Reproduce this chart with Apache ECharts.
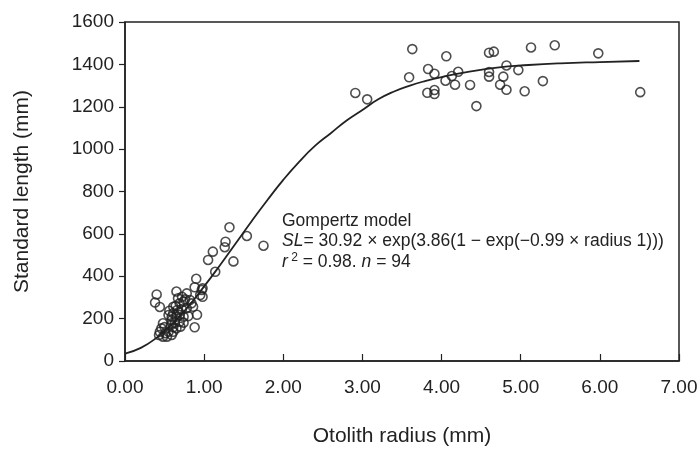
<!DOCTYPE html>
<html>
<head>
<meta charset="utf-8">
<script src="https://cdn.jsdelivr.net/npm/echarts@6/dist/echarts.min.js"></script>
<style>
  html, body { margin: 0; padding: 0; background: #fff; }
  #chart { width: 700px; height: 449px; }
</style>
</head>
<body>
<div id="chart"></div>
<script>
// observed fish: otolith radius (mm) and standard length (mm)
const radius = [
  // small fish
  1.32, 1.54, 1.75, 1.27, 1.26, 1.11, 1.05, 1.37, 1.14, 0.90, 0.88, 0.98, 0.97, 0.95, 0.98,
  0.88, 0.91, 0.40, 0.38, 0.44, 0.65, 0.56,
  0.78, 0.82, 0.84, 0.74, 0.69, 0.64, 0.66, 0.72, 0.78, 0.86, 0.61, 0.65, 0.69, 0.74, 0.80,
  0.59, 0.63, 0.69, 0.74, 0.58, 0.61, 0.48, 0.46, 0.44, 0.51, 0.55, 0.59, 0.53, 0.48, 0.43,
  0.61, 0.65, 0.70, 0.59, 0.55, 0.67, 0.72, 0.76, 0.61, 0.50, 0.68,
  // large fish
  3.63, 3.59, 2.91, 3.06, 4.06, 3.83, 3.91, 3.82, 3.91, 3.91, 4.05, 4.13, 4.21, 4.17, 4.36,
  4.44, 4.60, 4.66, 4.60, 4.60, 4.82, 4.78, 4.74, 4.82, 4.97, 5.05, 5.13, 5.28, 5.43, 5.98, 6.51
];
const stdLength = [
  631, 590, 544, 563, 537, 516, 477, 470, 421, 388, 348, 343, 335, 311, 303,
  159, 218, 314, 276, 255, 328, 237,
  319, 288, 272, 280, 272, 260, 241, 244, 249, 256, 225, 209, 217, 209, 212,
  193, 181, 185, 181, 170, 159, 178, 154, 138, 131, 138, 123, 115, 115, 123,
  138, 154, 162, 209, 217, 296, 303, 291, 256, 160, 230,
  1472, 1339, 1265, 1235, 1438, 1378, 1356, 1266, 1279, 1260, 1323, 1345, 1365, 1304, 1303,
  1203, 1455, 1460, 1364, 1342, 1395, 1342, 1304, 1280, 1373, 1273, 1480, 1321, 1490, 1452, 1269
];

// fitted Gompertz curve as drawn in the figure
const fitRadius = [0, 0.2, 0.4, 0.6, 0.8, 1.0, 1.2, 1.4, 1.6, 1.8, 2.0, 2.2, 2.4, 2.6, 2.8,
  3.0, 3.2, 3.4, 3.6, 3.8, 4.0, 4.3, 4.7, 5.1, 5.5, 6.0, 6.5];
const fitLength = [35, 62, 110, 175, 258, 352, 452, 556, 660, 760, 855, 940, 1015, 1075, 1135,
  1185, 1235, 1272, 1300, 1322, 1340, 1362, 1385, 1397, 1405, 1411, 1416];

const xTicks = [0, 1, 2, 3, 4, 5, 6, 7];
const yTicks = [0, 200, 400, 600, 800, 1000, 1200, 1400, 1600];

const ink = '#222';
const font = '"Liberation Sans", Arial, sans-serif';

const chart = echarts.init(document.getElementById('chart'));

const option = {
  animation: false,
  backgroundColor: '#fff',
  grid: {
    left: 125,
    right: 21,
    top: 22,
    bottom: 88,
    outerBoundsMode: 'none',
    containLabel: false,
    show: true,
    borderColor: ink,
    borderWidth: 1.5
  },
  xAxis: {
    type: 'value',
    min: xTicks[0],
    max: xTicks[xTicks.length - 1],
    interval: 1,
    name: 'Otolith radius (mm)',
    nameLocation: 'middle',
    nameGap: 65,
    nameTextStyle: { fontFamily: font, fontSize: 21, color: ink },
    axisLine: { lineStyle: { color: ink, width: 1.5 } },
    axisTick: { inside: true, length: 7, lineStyle: { color: ink, width: 1.2 } },
    axisLabel: {
      margin: 17,
      fontFamily: font,
      fontSize: 19,
      color: ink,
      formatter: (v) => v.toFixed(2)
    },
    splitLine: { show: false }
  },
  yAxis: {
    type: 'value',
    min: yTicks[0],
    max: yTicks[yTicks.length - 1],
    interval: 200,
    name: 'Standard length (mm)',
    nameLocation: 'middle',
    nameGap: 92,
    nameTextStyle: { fontFamily: font, fontSize: 21, color: ink },
    axisLine: { lineStyle: { color: ink, width: 1.5 } },
    axisTick: { length: 6, lineStyle: { color: ink, width: 1.2 } },
    axisLabel: {
      margin: 11,
      fontFamily: font,
      fontSize: 19,
      color: ink,
      formatter: (v) => String(v)
    },
    splitLine: { show: false }
  },
  graphic: [
    {
      type: 'text',
      left: 282,
      top: 212,
      style: {
        text: '{t|Gompertz model}\n{i|SL}{t|= 30.92 × exp(3.86(1 − exp(−0.99 × radius 1)))}\n{i|r}{sup| 2}{t| = 0.98. }{i|n}{t| = 94}',
        rich: {
          t: { fontFamily: font, fontSize: 17.5, fill: ink, lineHeight: 20.5 },
          i: { fontFamily: font, fontSize: 17.5, fontStyle: 'italic', fill: ink, lineHeight: 20.5 },
          sup: { fontFamily: font, fontSize: 12, fill: ink, verticalAlign: 'top', lineHeight: 20.5, padding: [0, 0, 8, 0] }
        }
      }
    }
  ],
  series: [
    {
      name: 'Gompertz fit',
      type: 'line',
      data: fitRadius.map((r, i) => [r, fitLength[i]]),
      smooth: true,
      showSymbol: false,
      lineStyle: { color: ink, width: 1.8 },
      z: 2
    },
    {
      name: 'Observed',
      type: 'scatter',
      data: radius.map((r, i) => [r, stdLength[i]]),
      symbol: 'circle',
      symbolSize: 9,
      itemStyle: {
        color: 'rgba(255,255,255,0)',
        borderColor: ink,
        borderWidth: 1.6
      },
      z: 3
    }
  ]
};

chart.setOption(option);
</script>
</body>
</html>
